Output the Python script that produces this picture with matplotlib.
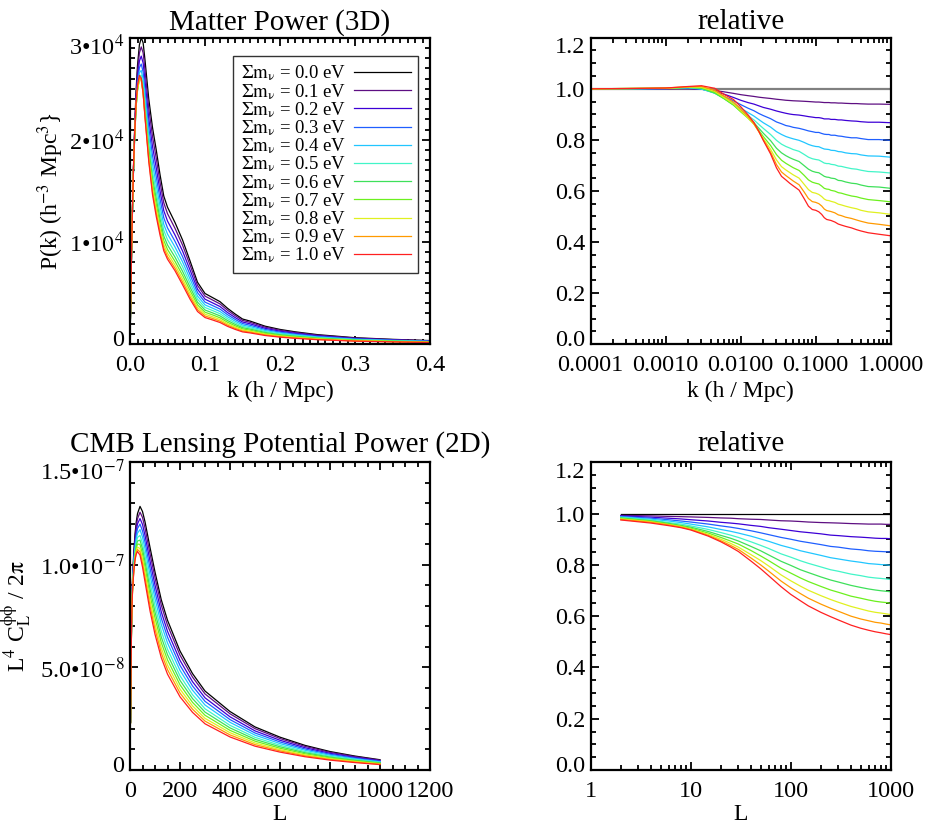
import numpy as np
import matplotlib
matplotlib.use("Agg")
import matplotlib.pyplot as plt
from matplotlib.ticker import MultipleLocator, LogLocator, NullFormatter
from matplotlib.transforms import ScaledTranslation

plt.rcParams['font.family'] = ['Liberation Serif', 'DejaVu Serif']
plt.rcParams['mathtext.fontset'] = 'stix'

# neutrino masses (eV) and line colours
masses = ['0.0', '0.1', '0.2', '0.3', '0.4', '0.5', '0.6', '0.7', '0.8', '0.9', '1.0']
colors = ['black', '#5e0f82', '#3d00d6', '#1f5fff', '#21c6ff', '#42f5c8',
          '#3ee05a', '#6cf01e', '#e0f020', '#ff9a00', '#ff2020']

# ---- matter power spectrum, massless case (h^-3 Mpc^3)
k = [0.0001, 0.0003, 0.001, 0.002, 0.003, 0.0045, 0.006, 0.008, 0.01, 0.0125,
     0.015, 0.0175, 0.02, 0.025, 0.03, 0.035, 0.04, 0.045, 0.05, 0.06,
     0.07, 0.08, 0.09, 0.1, 0.11, 0.12, 0.13, 0.14, 0.15, 0.16,
     0.18, 0.2, 0.22, 0.25, 0.3, 0.35, 0.4, 0.5, 0.7, 1.0]
pk_0ev = [480, 1420, 4600, 8700, 12300, 17000, 20700, 24700, 27300, 29300,
          30000, 29500, 27800, 24000, 21200, 19000, 16600, 14500, 13400, 11900,
          10200, 8150, 6050, 4950, 4550, 4150, 3500, 2950, 2450, 2250,
          1750, 1430, 1200, 920, 620, 460, 340, 210, 100, 50]

# P(k, m) / P(k, 0)
pk_ratio_01 = [1.000, 1.000, 1.000, 1.000, 0.998, 0.993, 0.988, 0.982, 0.977, 0.973,
               0.970, 0.967, 0.965, 0.962, 0.959, 0.957, 0.955, 0.954, 0.953, 0.952,
               0.951, 0.950, 0.949, 0.948, 0.948, 0.947, 0.946, 0.946, 0.946, 0.945,
               0.945, 0.944, 0.944, 0.943, 0.942, 0.942, 0.941, 0.940, 0.940, 0.939]
pk_ratio_02 = [1.000, 1.000, 1.001, 1.002, 0.999, 0.989, 0.979, 0.966, 0.955, 0.946,
               0.940, 0.933, 0.927, 0.920, 0.913, 0.908, 0.904, 0.901, 0.899, 0.897,
               0.894, 0.891, 0.889, 0.887, 0.887, 0.885, 0.882, 0.882, 0.882, 0.880,
               0.880, 0.878, 0.878, 0.876, 0.874, 0.873, 0.871, 0.869, 0.869, 0.867]
pk_ratio_03 = [1.000, 1.000, 1.001, 1.003, 0.999, 0.985, 0.970, 0.953, 0.938, 0.924,
               0.914, 0.903, 0.895, 0.883, 0.870, 0.863, 0.856, 0.853, 0.849, 0.845,
               0.840, 0.835, 0.832, 0.829, 0.829, 0.825, 0.822, 0.821, 0.821, 0.818,
               0.818, 0.815, 0.814, 0.811, 0.808, 0.808, 0.805, 0.801, 0.801, 0.798]
pk_ratio_04 = [1.000, 1.000, 1.001, 1.004, 0.999, 0.983, 0.965, 0.944, 0.924, 0.907,
               0.893, 0.879, 0.867, 0.850, 0.832, 0.821, 0.813, 0.808, 0.804, 0.798,
               0.790, 0.782, 0.777, 0.774, 0.773, 0.768, 0.764, 0.763, 0.762, 0.759,
               0.758, 0.754, 0.753, 0.749, 0.746, 0.745, 0.741, 0.737, 0.736, 0.732]
pk_ratio_05 = [1.000, 1.000, 1.002, 1.005, 1.000, 0.983, 0.962, 0.938, 0.916, 0.895,
               0.878, 0.860, 0.845, 0.821, 0.798, 0.783, 0.774, 0.768, 0.762, 0.755,
               0.743, 0.732, 0.726, 0.723, 0.721, 0.715, 0.709, 0.707, 0.707, 0.704,
               0.702, 0.697, 0.696, 0.692, 0.687, 0.685, 0.681, 0.676, 0.674, 0.670]
pk_ratio_06 = [1.000, 1.001, 1.002, 1.005, 1.002, 0.983, 0.961, 0.936, 0.911, 0.887,
               0.867, 0.845, 0.826, 0.797, 0.767, 0.749, 0.738, 0.730, 0.724, 0.715,
               0.699, 0.685, 0.677, 0.673, 0.671, 0.664, 0.657, 0.654, 0.653, 0.650,
               0.648, 0.641, 0.640, 0.635, 0.630, 0.628, 0.623, 0.617, 0.615, 0.610]
pk_ratio_07 = [1.000, 1.001, 1.002, 1.006, 1.004, 0.986, 0.962, 0.937, 0.910, 0.885,
               0.862, 0.836, 0.813, 0.778, 0.742, 0.720, 0.708, 0.699, 0.691, 0.680,
               0.661, 0.643, 0.634, 0.630, 0.627, 0.619, 0.610, 0.607, 0.606, 0.602,
               0.599, 0.593, 0.591, 0.586, 0.580, 0.577, 0.572, 0.566, 0.562, 0.557]
pk_ratio_08 = [1.000, 1.001, 1.002, 1.007, 1.006, 0.990, 0.966, 0.941, 0.914, 0.886,
               0.861, 0.832, 0.805, 0.763, 0.721, 0.695, 0.682, 0.672, 0.663, 0.650,
               0.626, 0.605, 0.594, 0.591, 0.586, 0.578, 0.568, 0.563, 0.562, 0.559,
               0.555, 0.548, 0.545, 0.540, 0.534, 0.530, 0.524, 0.518, 0.514, 0.508]
pk_ratio_09 = [1.000, 1.001, 1.003, 1.008, 1.009, 0.994, 0.971, 0.948, 0.920, 0.891,
               0.863, 0.831, 0.800, 0.752, 0.703, 0.674, 0.660, 0.649, 0.639, 0.624,
               0.596, 0.570, 0.558, 0.555, 0.550, 0.541, 0.529, 0.523, 0.521, 0.519,
               0.514, 0.506, 0.503, 0.497, 0.492, 0.486, 0.481, 0.474, 0.469, 0.463]
pk_ratio_10 = [1.000, 1.001, 1.003, 1.009, 1.012, 1.002, 0.978, 0.958, 0.930, 0.898,
               0.868, 0.833, 0.798, 0.745, 0.690, 0.657, 0.643, 0.630, 0.620, 0.603,
               0.570, 0.540, 0.527, 0.524, 0.518, 0.508, 0.495, 0.488, 0.486, 0.484,
               0.478, 0.470, 0.466, 0.461, 0.455, 0.448, 0.443, 0.436, 0.430, 0.424]

# ---- CMB lensing potential power, massless case (units of 1e-7)
ell = [2, 4, 6, 8, 10, 15, 20, 25, 30, 40, 50, 60, 80, 100, 125, 150, 200,
       250, 300, 400, 500, 600, 700, 800, 900, 1000]
clpp_0ev = [0.235, 0.52, 0.72, 0.85, 0.93, 1.06, 1.15, 1.21, 1.25, 1.285, 1.26,
            1.21, 1.085, 0.965, 0.83, 0.73, 0.58, 0.47, 0.385, 0.285, 0.21,
            0.16, 0.12, 0.09, 0.068, 0.05]

cl_ratio_01 = [0.993, 0.991, 0.989, 0.988, 0.987, 0.985, 0.983, 0.982, 0.980, 0.978, 0.977, 0.975, 0.972,
               0.971, 0.969, 0.967, 0.965, 0.964, 0.963, 0.961, 0.960, 0.959, 0.959, 0.959, 0.958, 0.958]
cl_ratio_02 = [0.991, 0.986, 0.982, 0.979, 0.976, 0.971, 0.966, 0.963, 0.960, 0.954, 0.950, 0.945, 0.939,
               0.934, 0.929, 0.926, 0.921, 0.916, 0.914, 0.910, 0.908, 0.906, 0.904, 0.903, 0.903, 0.902]
cl_ratio_03 = [0.989, 0.982, 0.976, 0.971, 0.967, 0.959, 0.952, 0.947, 0.942, 0.933, 0.925, 0.918, 0.907,
               0.900, 0.892, 0.887, 0.879, 0.872, 0.869, 0.862, 0.859, 0.855, 0.853, 0.852, 0.851, 0.850]
cl_ratio_04 = [0.987, 0.978, 0.971, 0.965, 0.959, 0.948, 0.938, 0.931, 0.924, 0.912, 0.901, 0.892, 0.876,
               0.866, 0.855, 0.848, 0.837, 0.828, 0.823, 0.815, 0.810, 0.805, 0.803, 0.801, 0.800, 0.798]
cl_ratio_05 = [0.985, 0.975, 0.965, 0.959, 0.952, 0.938, 0.926, 0.916, 0.907, 0.890, 0.876, 0.864, 0.843,
               0.830, 0.816, 0.806, 0.792, 0.781, 0.775, 0.764, 0.758, 0.752, 0.749, 0.747, 0.745, 0.743]
cl_ratio_06 = [0.983, 0.972, 0.962, 0.954, 0.947, 0.930, 0.915, 0.904, 0.893, 0.872, 0.855, 0.839, 0.814,
               0.798, 0.781, 0.770, 0.753, 0.741, 0.733, 0.720, 0.712, 0.706, 0.702, 0.699, 0.697, 0.695]
cl_ratio_07 = [0.981, 0.970, 0.959, 0.951, 0.943, 0.924, 0.907, 0.893, 0.881, 0.856, 0.835, 0.817, 0.787,
               0.768, 0.749, 0.735, 0.716, 0.702, 0.693, 0.678, 0.670, 0.663, 0.658, 0.655, 0.653, 0.650]
cl_ratio_08 = [0.979, 0.968, 0.957, 0.949, 0.940, 0.919, 0.900, 0.884, 0.869, 0.840, 0.817, 0.796, 0.761,
               0.738, 0.717, 0.701, 0.680, 0.665, 0.654, 0.638, 0.628, 0.620, 0.615, 0.612, 0.609, 0.606]
cl_ratio_09 = [0.977, 0.966, 0.956, 0.947, 0.938, 0.915, 0.894, 0.876, 0.860, 0.827, 0.800, 0.776, 0.737,
               0.711, 0.688, 0.670, 0.647, 0.631, 0.619, 0.600, 0.589, 0.582, 0.576, 0.573, 0.569, 0.566]
cl_ratio_10 = [0.975, 0.963, 0.953, 0.945, 0.936, 0.912, 0.890, 0.870, 0.852, 0.815, 0.785, 0.758, 0.715,
               0.685, 0.660, 0.640, 0.615, 0.598, 0.585, 0.565, 0.553, 0.545, 0.539, 0.535, 0.531, 0.528]

pk_ratios = [pk_ratio_01, pk_ratio_02, pk_ratio_03, pk_ratio_04, pk_ratio_05,
             pk_ratio_06, pk_ratio_07, pk_ratio_08, pk_ratio_09, pk_ratio_10]
cl_ratios = [cl_ratio_01, cl_ratio_02, cl_ratio_03, cl_ratio_04, cl_ratio_05,
             cl_ratio_06, cl_ratio_07, cl_ratio_08, cl_ratio_09, cl_ratio_10]

TICK_FS = 17.5
LABEL_FS = 17
TITLE_FS = 21


def style_axes(ax):
    ax.tick_params(which='both', direction='in', top=True, right=True,
                   width=1.3, labelsize=TICK_FS)
    ax.tick_params(which='major', length=6)
    ax.tick_params(which='minor', length=3.5)
    ax.tick_params(axis='x', pad=8)
    ax.tick_params(axis='y', pad=4)
    for s in ax.spines.values():
        s.set_linewidth(1.6)


def keep_end_labels_inside(ax, fig):
    # IDL-style: lowest y label nudged up, highest one nudged down
    labels = ax.get_yticklabels()
    up = ScaledTranslation(0, 4.5 / 72, fig.dpi_scale_trans)
    down = ScaledTranslation(0, -5.5 / 72, fig.dpi_scale_trans)
    labels[0].set_transform(labels[0].get_transform() + up)
    labels[-1].set_transform(labels[-1].get_transform() + down)


k_arr = np.array(k)
p0 = np.array(pk_0ev, dtype=float)
pk_all = [p0] + [p0 * np.array(r) for r in pk_ratios]
L_arr = np.array(ell)
c0 = np.array(clpp_0ev) * 1e-7
cl_all = [c0] + [c0 * np.array(r) for r in cl_ratios]

fig = plt.figure(figsize=(9.26, 8.31), dpi=100)

# Matter power (3D)
ax1 = fig.add_axes([0.1404, 0.586, 0.324, 0.3686])
for i in range(len(masses)):
    ax1.plot(k_arr, pk_all[i], color=colors[i], lw=0.9,
             label=r'$\Sigma\mathrm{m}_{\mathrm{\nu}}$ = ' + masses[i] + ' eV')
ax1.set_xlim(0, 0.4)
ax1.set_ylim(0, 3e4)
ax1.set_xticks([0.0, 0.1, 0.2, 0.3, 0.4])
ax1.set_xticklabels(['0.0', '0.1', '0.2', '0.3', '0.4'])
ax1.xaxis.set_minor_locator(MultipleLocator(0.01))
ax1.set_yticks([0, 1e4, 2e4, 3e4])
ax1.set_yticklabels(['0', '1•10$^4$', '2•10$^4$', '3•10$^4$'])
ax1.yaxis.set_minor_locator(MultipleLocator(1000))
style_axes(ax1)
keep_end_labels_inside(ax1, fig)
ax1.set_title('Matter Power (3D)', fontsize=TITLE_FS, pad=6)
ax1.set_xlabel('k (h / Mpc)', fontsize=LABEL_FS)
ax1.set_ylabel(r'P(k) (h$^{-3}$ Mpc$^3$}', fontsize=LABEL_FS)
ax1.xaxis.set_label_coords(0.5, -0.12)
ax1.yaxis.set_label_coords(-0.215, 0.5)
leg = ax1.legend(loc='upper right', bbox_to_anchor=(0.96, 0.94), borderaxespad=0,
                 markerfirst=False, fontsize=13.5, handlelength=3.0,
                 handletextpad=0.45, labelspacing=-0.08, fancybox=False,
                 borderpad=0.4)
leg.get_frame().set_edgecolor('black')
leg.get_frame().set_linewidth(1.0)

# Matter power ratio
ax2 = fig.add_axes([0.6379, 0.586, 0.324, 0.3686])
ax2.plot(k_arr, pk_all[0] / p0, color='0.5', lw=1.6)
for i in range(1, len(masses)):
    ax2.plot(k_arr, pk_all[i] / p0, color=colors[i], lw=0.9)
ax2.set_xscale('log')
ax2.set_xlim(1e-4, 1.0)
ax2.set_ylim(0, 1.2)
ax2.set_xticks([1e-4, 1e-3, 1e-2, 1e-1, 1.0])
ax2.set_xticklabels(['0.0001', '0.0010', '0.0100', '0.1000', '1.0000'])
ax2.xaxis.set_minor_locator(LogLocator(base=10, subs=np.arange(2, 10)))
ax2.xaxis.set_minor_formatter(NullFormatter())
ax2.set_yticks([0.0, 0.2, 0.4, 0.6, 0.8, 1.0, 1.2])
ax2.set_yticklabels(['0.0', '0.2', '0.4', '0.6', '0.8', '1.0', '1.2'])
ax2.yaxis.set_minor_locator(MultipleLocator(0.05))
style_axes(ax2)
keep_end_labels_inside(ax2, fig)
ax2.set_title('relative', fontsize=TITLE_FS, pad=6)
ax2.set_xlabel('k (h / Mpc)', fontsize=LABEL_FS)
ax2.xaxis.set_label_coords(0.5, -0.12)

# CMB lensing potential power (2D)
ax3 = fig.add_axes([0.1404, 0.0734, 0.324, 0.3703])
for i in range(len(masses)):
    ax3.plot(L_arr, cl_all[i], color=colors[i], lw=0.9)
ax3.set_xlim(0, 1200)
ax3.set_ylim(0, 1.5e-7)
ax3.set_xticks([0, 200, 400, 600, 800, 1000, 1200])
ax3.set_xticklabels(['0', '200', '400', '600', '800', '1000', '1200'])
ax3.xaxis.set_minor_locator(MultipleLocator(50))
ax3.set_yticks([0, 5e-8, 1e-7, 1.5e-7])
ax3.set_yticklabels(['0', '5.0•10$^{-8}$', '1.0•10$^{-7}$', '1.5•10$^{-7}$'])
ax3.yaxis.set_minor_locator(MultipleLocator(1e-8))
style_axes(ax3)
keep_end_labels_inside(ax3, fig)
ax3.set_title('CMB Lensing Potential Power (2D)', fontsize=TITLE_FS, pad=8)
ax3.set_xlabel('L', fontsize=LABEL_FS)
ax3.set_ylabel(r'L$^4$ C$_\mathrm{L}^{\mathrm{\phi\phi}}$ / 2$\mathrm{\pi}$', fontsize=LABEL_FS)
ax3.xaxis.set_label_coords(0.5, -0.11)
ax3.yaxis.set_label_coords(-0.32, 0.5)

# CMB lensing ratio
ax4 = fig.add_axes([0.6379, 0.0734, 0.324, 0.3703])
ax4.plot(L_arr, cl_all[0] / c0, color='black', lw=0.9)
for i in range(1, len(masses)):
    ax4.plot(L_arr, cl_all[i] / c0, color=colors[i], lw=0.9)
ax4.set_xscale('log')
ax4.set_xlim(1, 1000)
ax4.set_ylim(0, 1.2)
ax4.set_xticks([1, 10, 100, 1000])
ax4.set_xticklabels(['1', '10', '100', '1000'])
ax4.xaxis.set_minor_locator(LogLocator(base=10, subs=np.arange(2, 10)))
ax4.xaxis.set_minor_formatter(NullFormatter())
ax4.set_yticks([0.0, 0.2, 0.4, 0.6, 0.8, 1.0, 1.2])
ax4.set_yticklabels(['0.0', '0.2', '0.4', '0.6', '0.8', '1.0', '1.2'])
ax4.yaxis.set_minor_locator(MultipleLocator(0.05))
style_axes(ax4)
keep_end_labels_inside(ax4, fig)
ax4.set_title('relative', fontsize=TITLE_FS, pad=8)
ax4.set_xlabel('L', fontsize=LABEL_FS)
ax4.xaxis.set_label_coords(0.5, -0.11)

fig.savefig('out.png', dpi=100)
